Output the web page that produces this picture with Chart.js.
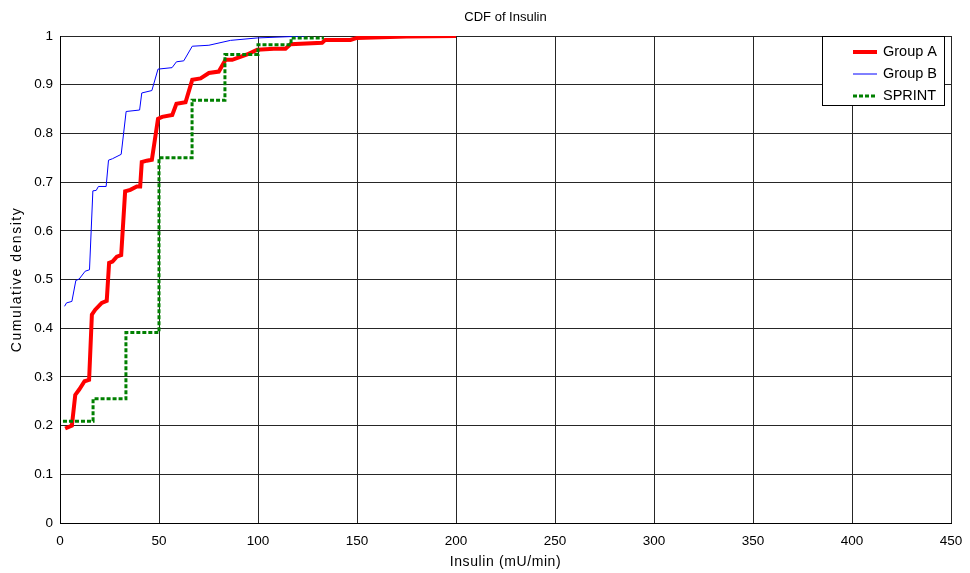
<!DOCTYPE html>
<html>
<head>
<meta charset="utf-8">
<script src="https://cdn.jsdelivr.net/npm/chart.js@4.4.1/dist/chart.umd.min.js"></script>
<style>
  html, body { margin: 0; padding: 0; background: #fff; }
  #wrap { width: 970px; height: 573px; }
</style>
</head>
<body>
<div id="wrap"><canvas id="myChart" width="970" height="573"></canvas></div>
<script>
let chartTitle = "CDF of Insulin";
let xTitle = "Insulin (mU/min)";
let yTitle = "Cumulative density";
let xTicks = [0, 50, 100, 150, 200, 250, 300, 350, 400, 450];
let yTicks = [0, 0.1, 0.2, 0.3, 0.4, 0.5, 0.6, 0.7, 0.8, 0.9, 1];
let yTickLabels = ["0", "0.1", "0.2", "0.3", "0.4", "0.5", "0.6", "0.7", "0.8", "0.9", "1"];

let groupAX = [2.6, 6, 7.7, 9.7, 12.4, 14.7, 16.1, 17.8, 21.1, 23.6, 24.8, 26.5, 28.7, 30.9, 32.9, 35.5, 38.8, 40.5, 41.3, 43.8, 46.4, 49.5, 51.6, 56.7, 58.8, 63.4, 66.8, 71, 75.2, 80.2, 83.6, 87, 94.5, 99.6, 108, 113.9, 116.4, 132.4, 134, 146.7, 150, 175, 200];
let groupAY = [0.194, 0.2, 0.263, 0.274, 0.291, 0.294, 0.428, 0.438, 0.452, 0.456, 0.534, 0.537, 0.547, 0.55, 0.681, 0.684, 0.691, 0.691, 0.741, 0.744, 0.746, 0.83, 0.834, 0.838, 0.861, 0.864, 0.91, 0.913, 0.924, 0.927, 0.951, 0.951, 0.962, 0.972, 0.974, 0.974, 0.983, 0.986, 0.992, 0.992, 0.996, 0.999, 1.0];

let groupBX = [2.3, 3.3, 6, 8, 9.7, 12.7, 14.9, 16.6, 18.3, 19.4, 23.3, 24.5, 26.5, 30.9, 33.4, 40.2, 41.3, 46.4, 49.5, 56.6, 58.8, 62.5, 66.8, 75.2, 86.1, 99.6, 124];
let groupBY = [0.445, 0.452, 0.455, 0.498, 0.501, 0.517, 0.52, 0.682, 0.683, 0.691, 0.691, 0.745, 0.748, 0.757, 0.845, 0.848, 0.883, 0.888, 0.932, 0.935, 0.947, 0.949, 0.979, 0.981, 0.991, 0.996, 1.0];

let sprintX = [1.5, 16.7, 33.3, 50, 66.7, 83.3, 100, 116.7, 133.3];
let sprintY = [0.209, 0.255, 0.391, 0.75, 0.868, 0.962, 0.982, 0.996, 0.996];

const FONT = '"Liberation Sans", Arial, sans-serif';

function toPoints(xs, ys) {
  return xs.map((x, i) => ({ x: x, y: ys[i] }));
}

// titles, axis labels and the boxed legend in the top right corner
const decorations = {
  id: 'decorations',
  afterDraw(chart) {
    const ctx = chart.ctx;
    const a = chart.chartArea;
    ctx.save();
    ctx.fillStyle = '#000';
    ctx.textAlign = 'center';
    ctx.textBaseline = 'middle';
    ctx.font = '13px ' + FONT;
    ctx.fillText(chartTitle, (a.left + a.right) / 2, 17);
    ctx.font = '14px ' + FONT;
    ctx.letterSpacing = '0.6px';
    ctx.fillText(xTitle, (a.left + a.right) / 2, 562);
    ctx.save();
    ctx.letterSpacing = '1.5px';
    ctx.translate(17, (a.top + a.bottom) / 2);
    ctx.rotate(-Math.PI / 2);
    ctx.fillText(yTitle, 0, 0);
    ctx.restore();
    ctx.letterSpacing = '0px';

    const bx = a.right - 129, by = a.top, bw = 122, bh = 69;
    ctx.fillStyle = '#fff';
    ctx.fillRect(bx, by, bw, bh);
    ctx.strokeStyle = '#000';
    ctx.lineWidth = 1;
    ctx.setLineDash([]);
    ctx.strokeRect(bx + 0.5, by + 0.5, bw, bh);
    ctx.font = '14.5px ' + FONT;
    ctx.textAlign = 'left';
    chart.data.datasets.forEach((ds, i) => {
      const y = by + 16 + i * 22;
      ctx.strokeStyle = ds.borderColor;
      ctx.lineWidth = ds.borderWidth;
      ctx.setLineDash(ds.borderDash || []);
      ctx.beginPath();
      ctx.moveTo(bx + 31, y);
      ctx.lineTo(bx + 55, y);
      ctx.stroke();
      ctx.fillStyle = '#000';
      ctx.fillText(ds.label, bx + 61, y);
    });
    ctx.restore();
  }
};

function createChart() {
  const ctx = document.getElementById('myChart').getContext('2d');
  new Chart(ctx, {
    type: 'line',
    data: {
      datasets: [{
        label: 'Group A',
        data: toPoints(groupAX, groupAY),
        borderColor: '#ff0000',
        borderWidth: 4,
        pointRadius: 0,
        tension: 0,
        order: 2
      }, {
        label: 'Group B',
        data: toPoints(groupBX, groupBY),
        borderColor: '#0000ff',
        borderWidth: 1,
        pointRadius: 0,
        tension: 0,
        order: 3
      }, {
        label: 'SPRINT',
        data: toPoints(sprintX, sprintY),
        borderColor: '#008000',
        borderWidth: 3,
        borderDash: [4, 2],
        stepped: true,
        pointRadius: 0,
        order: 1
      }]
    },
    options: {
      responsive: false,
      animation: false,
      layout: { padding: { top: 36, right: 19, left: 0, bottom: 0 } },
      plugins: {
        legend: { display: false },
        title: { display: false },
        tooltip: { enabled: false }
      },
      scales: {
        x: {
          type: 'linear',
          min: 0,
          max: 450,
          afterBuildTicks: (scale) => { scale.ticks = xTicks.map(v => ({ value: v })); },
          afterFit: (scale) => {
            scale.height = 50;
            scale.paddingLeft = 0;
            scale.paddingRight = 0;
          },
          grid: { color: '#262626', drawTicks: false },
          border: { color: '#000' },
          ticks: { color: '#000', padding: 10, font: { family: FONT, size: 13.5 } }
        },
        y: {
          type: 'linear',
          min: 0,
          max: 1,
          afterBuildTicks: (scale) => { scale.ticks = yTicks.map(v => ({ value: v })); },
          afterFit: (scale) => { scale.width = 60; },
          grid: { color: '#262626', drawTicks: false },
          border: { color: '#000' },
          ticks: {
            color: '#000',
            padding: 7,
            font: { family: FONT, size: 13.5 },
            callback: (v, i) => yTickLabels[i]
          }
        }
      }
    },
    plugins: [decorations]
  });
}

window.onload = createChart;
</script>
</body>
</html>
